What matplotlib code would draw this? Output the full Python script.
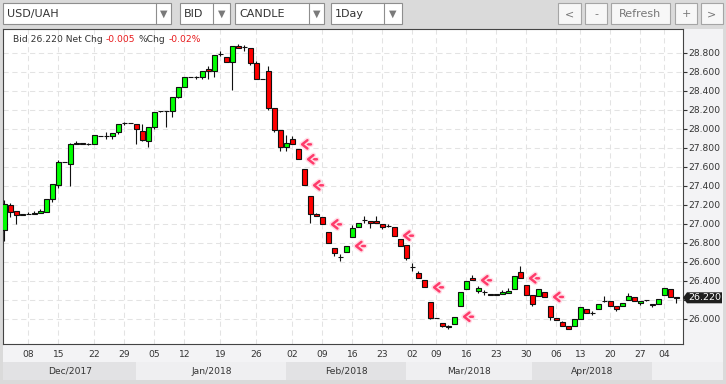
import numpy as np
import matplotlib
matplotlib.use('Agg')
import matplotlib.pyplot as plt
from matplotlib.patches import Rectangle, Polygon
from matplotlib.offsetbox import TextArea, HPacker, AnnotationBbox
import matplotlib.patheffects as pe

plt.rcParams['font.family'] = ['DejaVu Sans']

# USD/UAH daily bid candles, one per trading slot on the axis
opens = [26.934, 27.193, 27.130, 27.095, 27.100, 27.105, 27.109, 27.127, 27.257, 27.407,
         27.646, 27.625, 27.835, 27.853, 27.835, 27.842, 27.926, 27.928, 27.923, 27.961,
         28.056, 28.056, 28.046, 27.976, 27.874, 28.014, 28.186, 28.186, 28.186, 28.330,
         28.442, 28.540, 28.545, 28.540, 28.625, 28.604, 28.786, 28.751, 28.706, 28.874,
         28.857, 28.846, 28.688, 28.520, 28.611, 28.214, 27.986, 27.804, 27.888, 27.783,
         27.572, 27.292, 27.102, 27.074, 26.909, 26.741, 26.653, 26.699, 26.863, 26.969,
         27.035, 27.032, 27.032, 26.993, 26.979, 26.969, 26.835, 26.772, 26.541, 26.485,
         26.404, 26.179, 26.004, 25.958, 25.916, 25.941, 26.138, 26.309, 26.425, 26.295,
         26.285, 26.255, 26.250, 26.260, 26.274, 26.309, 26.495, 26.355, 26.250, 26.239,
         26.278, 26.131, 26.008, 25.966, 25.920, 25.927, 25.994, 26.099, 26.064, 26.099,
         26.190, 26.187, 26.138, 26.138, 26.201, 26.225, 26.162, 26.194, 26.152, 26.155,
         26.249, 26.309, 26.225]
highs = [27.250, 27.215, 27.130, 27.100, 27.120, 27.134, 27.160, 27.257, 27.415, 27.670,
         27.646, 27.846, 27.870, 27.853, 27.845, 27.933, 27.926, 27.961, 27.951, 28.046,
         28.074, 28.056, 28.046, 28.046, 28.014, 28.172, 28.190, 28.190, 28.330, 28.442,
         28.540, 28.540, 28.555, 28.611, 28.664, 28.776, 28.821, 28.751, 28.874, 28.890,
         28.880, 28.846, 28.710, 28.520, 28.660, 28.214, 27.986, 27.934, 27.923, 27.783,
         27.572, 27.292, 27.115, 27.074, 26.909, 26.741, 26.681, 26.765, 26.986, 27.004,
         27.081, 27.032, 27.081, 26.993, 26.995, 26.969, 26.835, 26.772, 26.590, 26.506,
         26.404, 26.179, 26.004, 25.958, 25.930, 26.021, 26.285, 26.400, 26.460, 26.344,
         26.302, 26.260, 26.260, 26.300, 26.320, 26.450, 26.555, 26.355, 26.250, 26.309,
         26.278, 26.131, 26.008, 25.980, 25.920, 25.994, 26.120, 26.099, 26.080, 26.155,
         26.239, 26.187, 26.138, 26.169, 26.267, 26.225, 26.190, 26.197, 26.152, 26.204,
         26.323, 26.309, 26.232]
lows = [26.820, 27.067, 27.000, 27.090, 27.100, 27.105, 27.109, 27.127, 27.232, 27.379,
        27.646, 27.400, 27.835, 27.835, 27.828, 27.835, 27.926, 27.891, 27.891, 27.940,
        28.039, 28.056, 27.835, 27.870, 27.810, 28.000, 28.180, 28.020, 28.127, 28.320,
        28.442, 28.540, 28.523, 28.523, 28.520, 28.548, 28.765, 28.706, 28.407, 28.846,
        28.820, 28.670, 28.520, 28.520, 28.197, 27.968, 27.769, 27.769, 27.835, 27.678,
        27.404, 27.011, 27.081, 26.993, 26.793, 26.663, 26.611, 26.699, 26.863, 26.969,
        27.004, 26.958, 27.011, 26.945, 26.970, 26.874, 26.769, 26.618, 26.506, 26.432,
        26.330, 26.000, 26.004, 25.916, 25.895, 25.941, 26.138, 26.309, 26.404, 26.274,
        26.250, 26.250, 26.250, 26.260, 26.274, 26.309, 26.425, 26.250, 26.138, 26.239,
        26.225, 25.990, 25.983, 25.920, 25.895, 25.927, 25.994, 26.057, 26.040, 26.099,
        26.180, 26.138, 26.085, 26.138, 26.201, 26.190, 26.141, 26.190, 26.127, 26.155,
        26.249, 26.225, 26.169]
closes = [27.207, 27.120, 27.088, 27.098, 27.106, 27.109, 27.134, 27.257, 27.415, 27.646,
          27.646, 27.835, 27.853, 27.835, 27.836, 27.930, 27.926, 27.924, 27.951, 28.046,
          28.056, 28.056, 27.993, 27.877, 28.014, 28.172, 28.186, 28.186, 28.330, 28.442,
          28.540, 28.540, 28.545, 28.611, 28.604, 28.776, 28.786, 28.706, 28.874, 28.846,
          28.857, 28.695, 28.520, 28.520, 28.214, 27.986, 27.804, 27.846, 27.835, 27.678,
          27.404, 27.102, 27.081, 26.993, 26.793, 26.688, 26.653, 26.765, 26.951, 27.004,
          27.039, 27.004, 27.011, 26.962, 26.981, 26.874, 26.769, 26.635, 26.541, 26.432,
          26.330, 26.004, 26.004, 25.923, 25.918, 26.021, 26.285, 26.400, 26.404, 26.320,
          26.285, 26.250, 26.257, 26.278, 26.292, 26.450, 26.425, 26.250, 26.155, 26.309,
          26.229, 26.015, 25.983, 25.920, 25.895, 25.994, 26.120, 26.057, 26.064, 26.155,
          26.190, 26.138, 26.099, 26.169, 26.236, 26.190, 26.190, 26.194, 26.141, 26.204,
          26.323, 26.225, 26.220]

# Fridays labelled on the axis (slot index and day)
tick_slots = [4, 9, 15, 20, 25, 30, 36, 42, 48, 53, 58, 63, 68, 72, 77, 82, 87, 92, 96, 101, 106, 110]
tick_labels = ['08', '15', '22', '29', '05', '12', '19', '26', '02', '09', '16',
               '23', '02', '09', '16', '23', '30', '06', '13', '20', '27', '04']
# first slot of each new month
month_starts = [22, 47, 67, 88, 108]
month_labels = ['Dec/2017', 'Jan/2018', 'Feb/2018', 'Mar/2018', 'Apr/2018', '']
# candles flagged with a pink arrow
arrow_slots = [48, 49, 50, 53, 57, 65, 70, 75, 78, 86, 90]
price_ticks = [26.0, 26.2, 26.4, 26.6, 26.8, 27.0, 27.2, 27.4, 27.6, 27.8, 28.0, 28.2, 28.4, 28.6, 28.8]

# layout in pixels
W, H = 726, 384
L, R, T, B = 3, 683, 29, 344
PX0, PXS = 4.33, 6.0          # x pixel of slot 0, pixels per slot
YREF, PREF, PPU = 52.7, 28.8, 95.0


def slot_px(s):
    return PX0 + PXS * s


fig = plt.figure(figsize=(W / 100, H / 100), dpi=100, facecolor='#dadada')
bg = fig.add_axes([0, 0, 1, 1], zorder=0)
bg.set_xlim(0, W)
bg.set_ylim(H, 0)
bg.axis('off')


def box(x0, y0, x1, y1, fc, ec='none', lw=0.0):
    bg.add_patch(Rectangle((x0, y0), x1 - x0, y1 - y0, facecolor=fc,
                           edgecolor=ec, linewidth=lw, zorder=1))


# side / bottom panels
box(R, T, 723, 362, '#f3f3f5')
box(L, B, 723, 362, '#f3f3f5')
edges = [L] + [slot_px(s) for s in month_starts] + [723]
for k, lab in enumerate(month_labels):
    box(edges[k], 362, edges[k + 1], 380, '#e2e2e4' if k % 2 == 0 else '#efeff1')
    if lab:
        bg.text((edges[k] + edges[k + 1]) / 2, 371.5, lab, ha='center', va='center',
                fontsize=6.6, color='#333333', zorder=2)

# toolbar
combos = [('USD/UAH', 3, 171, 156), ('BID', 180, 230, 213),
          ('CANDLE', 235, 324, 309), ('1Day', 331, 402, 384)]
for lab, x0, x1, xd in combos:
    box(x0, 3, x1, 24, 'white', '#8e8e8e', 0.8)
    bg.plot([xd, xd], [3, 24], color='#8e8e8e', lw=0.8, zorder=2)
    bg.text(x0 + 4, 14, lab, ha='left', va='center', fontsize=8, color='#333333', zorder=2)
    bg.text((xd + x1) / 2, 14, '\u25bc', ha='center', va='center', fontsize=7,
            color='#7a7a7a', zorder=2)
buttons = [('<', 558, 581), ('-', 585, 607), ('Refresh', 611, 670), ('+', 675, 697), ('>', 701, 723)]
for lab, x0, x1 in buttons:
    box(x0, 3, x1, 24, '#f7f7f7', '#a5a5a5', 0.8)
    bg.text((x0 + x1) / 2, 14, lab, ha='center', va='center', fontsize=8,
            color='#777777', zorder=2)

# main chart
ax = fig.add_axes([L / W, 1 - B / H, (R - L) / W, (B - T) / H], zorder=2)
ax.set_facecolor('white')
ax.set_xlim((L - PX0) / PXS, (R - PX0) / PXS)
ax.set_ylim(PREF - (B - YREF) / PPU, PREF + (YREF - T) / PPU)

o, h, l, c = map(np.array, (opens, highs, lows, closes))
slots = np.arange(len(c))
ax.vlines(slots, l, h, color='#111111', lw=0.8, zorder=3)
ax.bar(slots, np.abs(c - o), bottom=np.minimum(o, c), width=0.84,
       color=np.where(c >= o, '#00ff00', '#ff0000'), edgecolor='#111111',
       linewidth=0.8, zorder=4)

for s in arrow_slots:
    an = ax.annotate('', xy=(s + 1.3, closes[s]), xytext=(s + 3.1, closes[s]),
                     arrowprops=dict(arrowstyle='->, head_length=0.38, head_width=0.3',
                                     color='#ff3b6b', lw=1.8, mutation_scale=10,
                                     shrinkA=0, shrinkB=0),
                     zorder=5)
    an.arrow_patch.set_path_effects([pe.Stroke(linewidth=3.8, foreground='#ffdde6'), pe.Normal()])

last = closes[-1]
chg = closes[-1] - closes[-2]
pct = chg / closes[-2] * 100

ax.set_xticks(tick_slots, tick_labels)
ax.yaxis.tick_right()
ax.set_yticks(price_ticks, [f'{v:.3f}' if abs(v - last) > 0.1 else '' for v in price_ticks])
ax.tick_params(axis='y', direction='out', length=3, width=0.8, color='#333333',
               pad=1, labelsize=6.6, labelcolor='#333333')
ax.tick_params(axis='x', length=0, pad=4, labelsize=6.6, labelcolor='#333333')
ax.set_axisbelow(True)
ax.grid(True, color='#e3e3e3', linewidth=0.75, linestyle=(0, (5, 3.5)))
for sp in ax.spines.values():
    sp.set_color('#444444')
    sp.set_linewidth(0.8)

# overlay: last price flag and header line
fg = fig.add_axes([0, 0, 1, 1], zorder=6)
fg.set_xlim(0, W)
fg.set_ylim(H, 0)
fg.axis('off')
ly = YREF + (PREF - last) * PPU
fg.add_patch(Polygon([(R, ly), (R + 4, ly - 5.5), (722, ly - 5.5), (722, ly + 5.5), (R + 4, ly + 5.5)],
                     closed=True, facecolor='#1f1f1f', edgecolor='none'))
fg.text(705, ly, f'{last:.3f}', color='white', fontsize=6.8, ha='center', va='center')

parts = [(f'Bid {last:.3f} Net Chg', '#333333'), (f'{chg:.3f}', '#e8191b'),
         ('%Chg', '#333333'), (f'{pct:.2f}%', '#e8191b')]
tas = [TextArea(t, textprops=dict(color=col, fontsize=6.6)) for t, col in parts]
pack = HPacker(children=tas, align='baseline', pad=0, sep=2.2)
fg.add_artist(AnnotationBbox(pack, (13, 39), xycoords='data', box_alignment=(0, 0.5),
                             frameon=False, pad=0))

fig.savefig('out.png', dpi=100, facecolor=fig.get_facecolor())
